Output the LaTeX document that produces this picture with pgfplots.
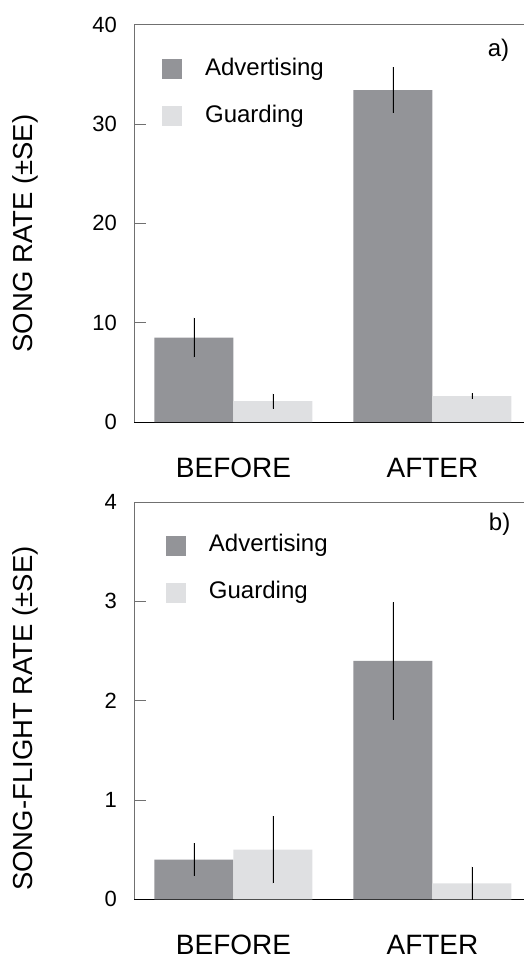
\documentclass[border=0pt]{standalone}
\usepackage{pgfplots}
\usepackage{pgfplotstable}
\pgfplotsset{compat=1.18}
\usepackage{fontspec}
\setmainfont{Liberation Sans}
\definecolor{advgray}{HTML}{939498}
\definecolor{guardgray}{HTML}{DFE0E2}
\definecolor{spinegray}{HTML}{707070}

\pgfplotstableread{
x adv adverr guard guarderr
0 8.5 2.0 2.1 0.75
1 33.4 2.3 2.6 0.27
}\songtable

\pgfplotstableread{
x adv adverr guard guarderr
0 0.40 0.165 0.50 0.34
1 2.40 0.59 0.16 0.17
}\flighttable

\pgfplotsset{
  panel/.style={
    scale only axis,
    width=390pt,
    xmin=-0.5, xmax=1.46,
    ymin=0,
    ybar=0pt,
    bar width=79pt,
    axis x line*=bottom,
    axis y line*=left,
    x axis line style={black, line width=0.8pt, -},
    y axis line style={spinegray, line width=0.8pt, -},
    xtick={0,1},
    xticklabels={BEFORE,AFTER},
    major x tick style={draw=none},
    tick align=inside,
    major tick length=12pt,
    major y tick style={spinegray, line width=0.7pt},
    /pgf/number format/assume math mode=true,
    yticklabel style={font=\fontsize{22}{22}\selectfont, inner sep=0pt, xshift=-17pt, anchor=east},
    xticklabel style={font=\fontsize{28}{28}\selectfont, anchor=base, inner sep=0pt, text depth=0pt, yshift=-55pt},
    every axis y label/.style={rotate=90, anchor=center, font=\fontsize{27.5}{28}\selectfont},
    legend style={draw=none, fill=none, inner sep=0pt, outer sep=0pt,
      anchor=north west, font=\fontsize{24}{28}\selectfont,
      nodes={inner sep=0pt, text height=17pt, text depth=5pt, anchor=west},
      row sep=25pt,
      /tikz/every odd column/.append style={column sep=23pt}},
    legend cell align=left,
    error bars/error bar style={black, line width=0.8pt},
  },
  sqlegend/.style={legend image code/.code={\fill[##1] (0pt,-10pt) rectangle (20pt,10pt);}},
}

\begin{document}
\begin{tikzpicture}
\useasboundingbox (0,0) rectangle (523pt,-959pt);

% ---- panel a ----
\begin{axis}[panel,
  at={(134pt,-422pt)}, anchor=south west,
  height=397.5pt,
  ymax=40, ytick={0,10,20,30,40},
  ylabel={SONG RATE (±SE)},
  ylabel style={at={(axis description cs:-0.279,0.474)}},
  legend style={at={(axis description cs:0.072,0.915)}},
]
\addplot[fill=advgray, draw=none, sqlegend,
  error bars/.cd, y dir=both, y explicit, error mark=none]
  table[x=x, y=adv, y error=adverr] {\songtable};
\addplot[fill=guardgray, draw=none, sqlegend,
  error bars/.cd, y dir=both, y explicit, error mark=none]
  table[x=x, y=guard, y error=guarderr] {\songtable};
\legend{Advertising, Guarding}
\draw[spinegray, line width=0.8pt] (rel axis cs:0,1) -- (rel axis cs:1,1);
\node[anchor=east, font=\fontsize{24}{28}\selectfont] at (rel axis cs:0.971,0.936) {a)};
\end{axis}

% ---- panel b ----
\begin{axis}[panel,
  at={(134pt,-899.3pt)}, anchor=south west,
  height=397.3pt,
  ymax=4, ytick={0,1,2,3,4},
  ylabel={SONG-FLIGHT RATE (±SE)},
  ylabel style={at={(axis description cs:-0.279,0.455)}},
  legend style={at={(axis description cs:0.082,0.917)}},
]
\addplot[fill=advgray, draw=none, sqlegend,
  error bars/.cd, y dir=both, y explicit, error mark=none]
  table[x=x, y=adv, y error=adverr] {\flighttable};
\addplot[fill=guardgray, draw=none, sqlegend,
  error bars/.cd, y dir=both, y explicit, error mark=none]
  table[x=x, y=guard, y error=guarderr] {\flighttable};
\legend{Advertising, Guarding}
\draw[spinegray, line width=0.8pt] (rel axis cs:0,1) -- (rel axis cs:1,1);
\node[anchor=east, font=\fontsize{24}{28}\selectfont] at (rel axis cs:0.974,0.945) {b)};
\end{axis}
\end{tikzpicture}
\end{document}
